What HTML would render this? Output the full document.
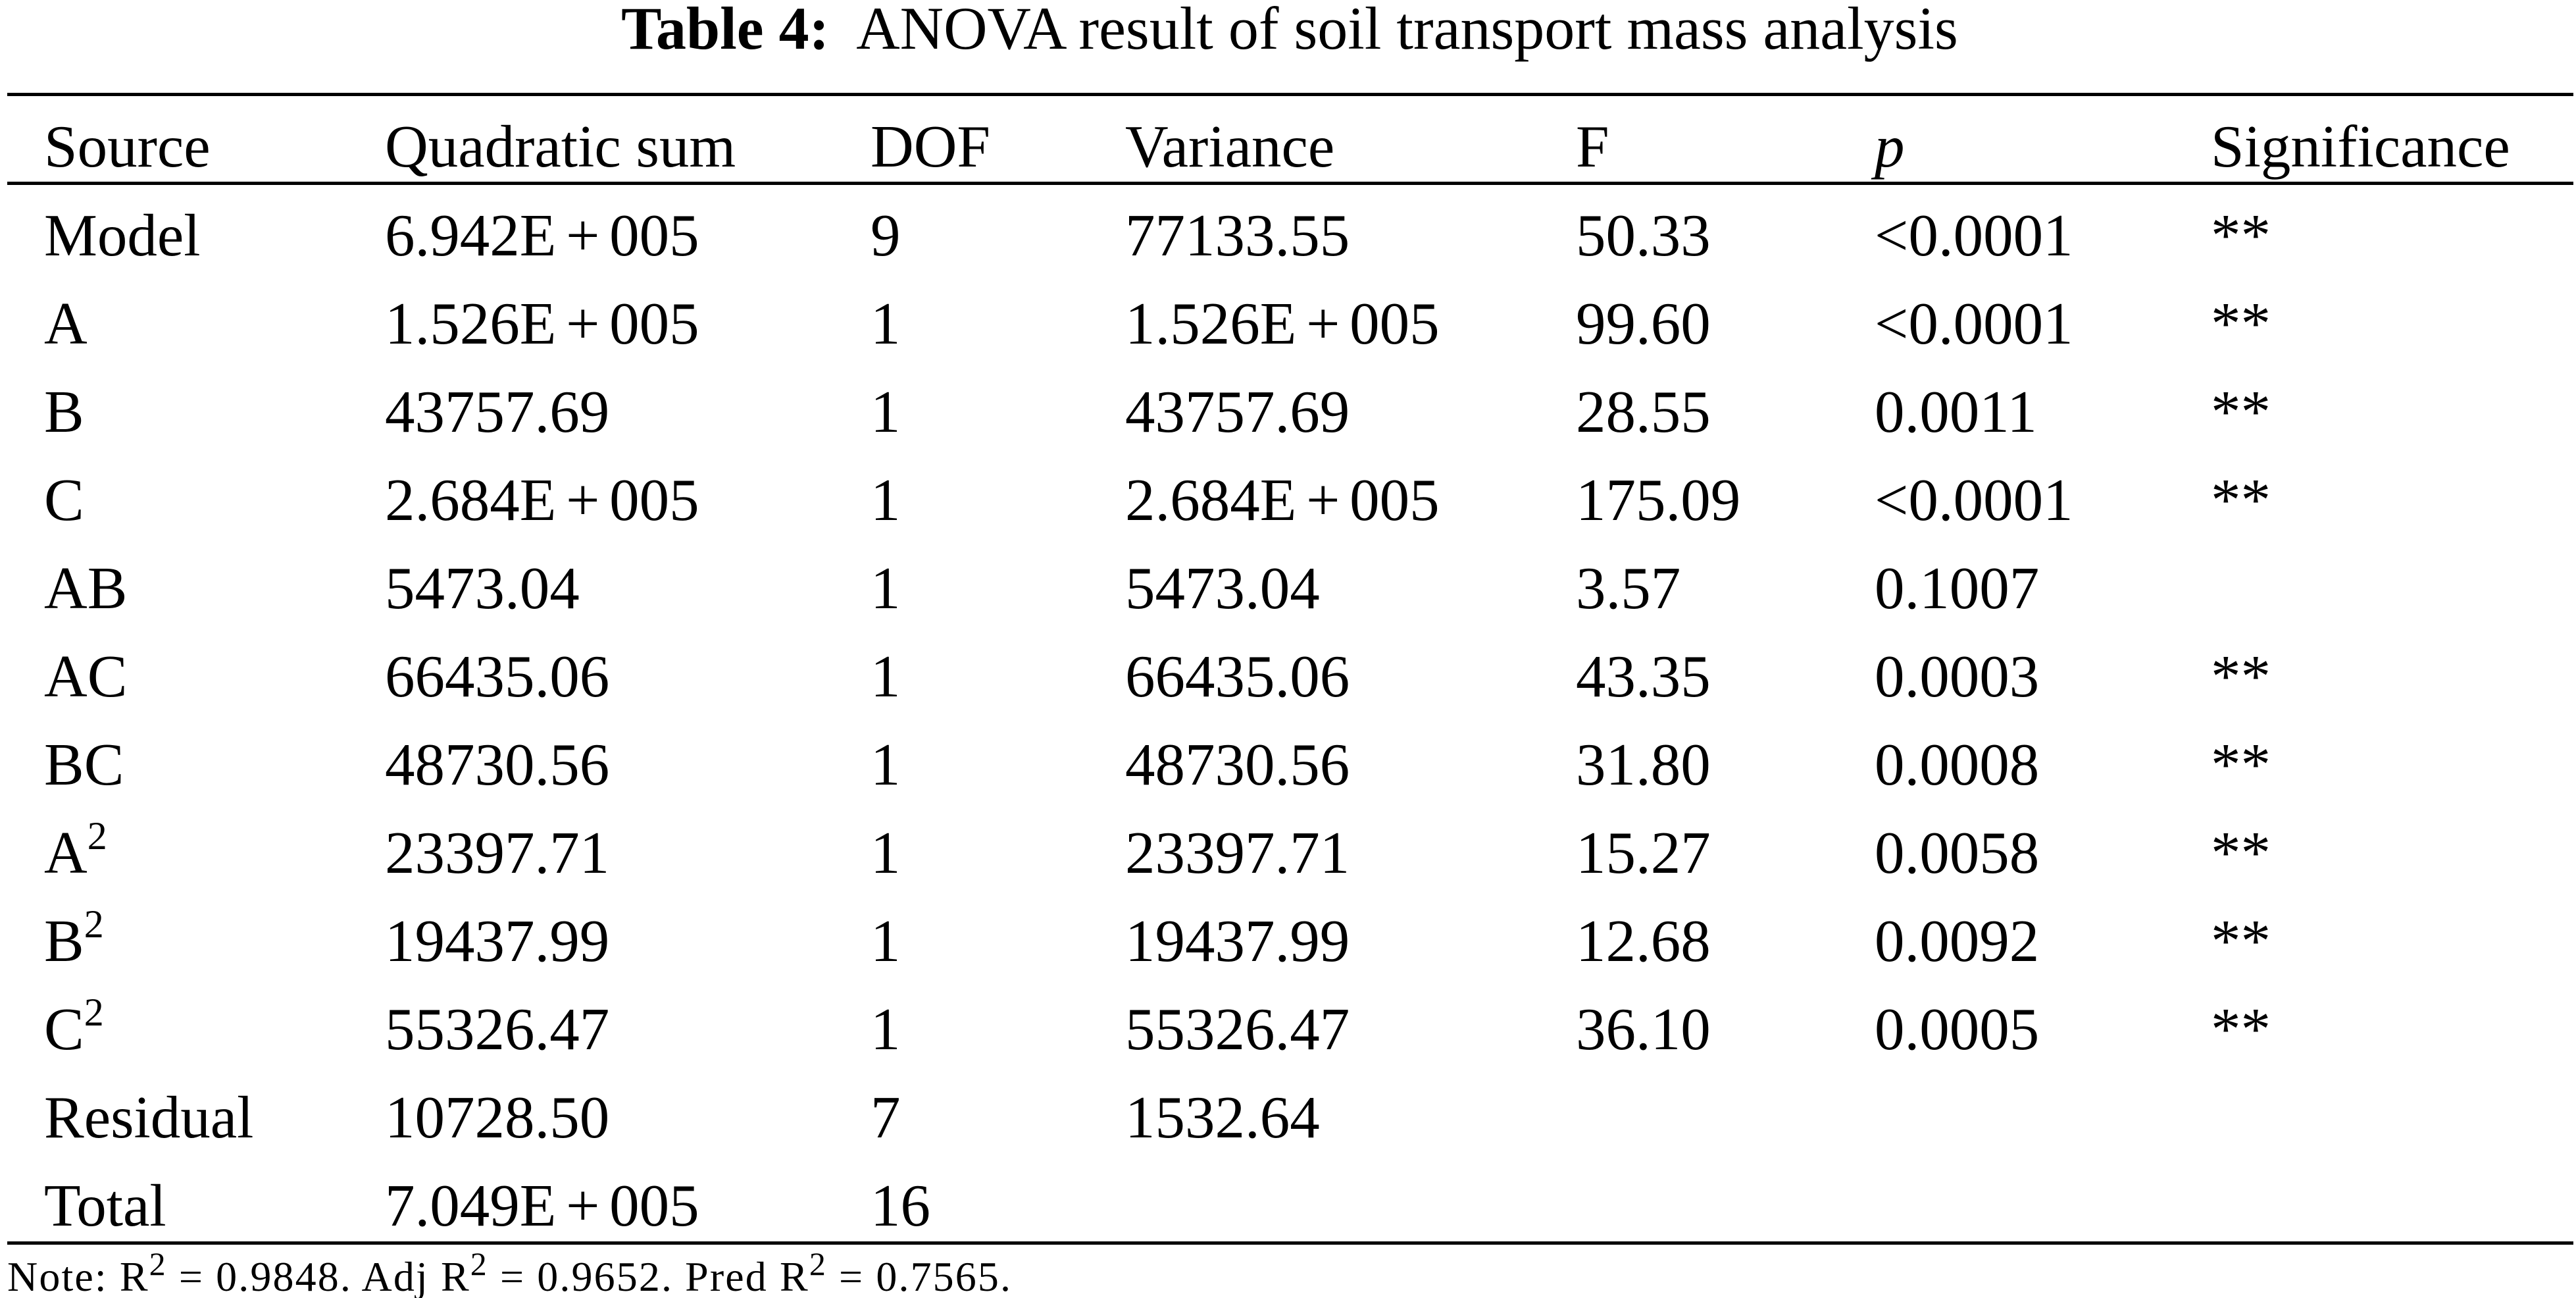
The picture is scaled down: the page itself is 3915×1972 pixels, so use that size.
<!DOCTYPE html>
<html><head><meta charset="utf-8"><style>
html,body{margin:0;padding:0;background:#fff;}
svg{display:block;}
text{font-family:"Liberation Serif","Times New Roman",serif;fill:#000;}
</style></head><body>
<svg id="tbl" width="3915" height="1972" viewBox="0 0 3915 1972" xmlns="http://www.w3.org/2000/svg">
<text x="1960" y="74" font-size="92" font-weight="bold" text-anchor="middle"><tspan font-weight="bold">Table 4:</tspan><tspan font-weight="normal" xml:space="preserve">  ANOVA result of soil transport mass analysis</tspan></text>
<rect x="11" y="141" width="3900" height="5" fill="#000"/>
<rect x="11" y="276" width="3900" height="5" fill="#000"/>
<rect x="11" y="1886" width="3900" height="5" fill="#000"/>
<text x="11" y="1961" font-size="64" textLength="1525" lengthAdjust="spacing">Note: R<tspan font-size="50" dy="-24">2</tspan><tspan dy="24"> = 0.9848. Adj R</tspan><tspan font-size="50" dy="-24">2</tspan><tspan dy="24"> = 0.9652. Pred R</tspan><tspan font-size="50" dy="-24">2</tspan><tspan dy="24"> = 0.7565.</tspan></text>
</svg>
<script>
const colX = [67, 585, 1323, 1710, 2395, 2849, 3360];
const headers = ["Source","Quadratic sum","DOF","Variance","F","p","Significance"];
const sources = ["Model","A","B","C","AB","AC","BC","A2","B2","C2","Residual","Total"];
const quadSum = ["6.942E + 005","1.526E + 005","43757.69","2.684E + 005","5473.04","66435.06","48730.56","23397.71","19437.99","55326.47","10728.50","7.049E + 005"];
const dof = ["9","1","1","1","1","1","1","1","1","1","7","16"];
const variance = ["77133.55","1.526E + 005","43757.69","2.684E + 005","5473.04","66435.06","48730.56","23397.71","19437.99","55326.47","1532.64",""];
const fVals = ["50.33","99.60","28.55","175.09","3.57","43.35","31.80","15.27","12.68","36.10","",""];
const pVals = ["<0.0001","<0.0001","0.0011","<0.0001","0.1007","0.0003","0.0008","0.0058","0.0092","0.0005","",""];
const sig = ["**","**","**","**","","**","**","**","**","**","",""];
const svg = document.getElementById('tbl');
const NS = "http://www.w3.org/2000/svg";
function mk(x, y, cls) {
  const t = document.createElementNS(NS, 'text');
  t.setAttribute('x', x);
  t.setAttribute('y', y);
  t.setAttribute('font-size', '91');
  
  
  svg.appendChild(t);
  return t;
}
headers.forEach((h, i) => {
  const t = mk(colX[i], 253, 'header-' + h.toLowerCase().replace(/ /g, '-'));
  t.textContent = h;
  if (h === 'p') t.setAttribute('font-style', 'italic');
});
const cols = [sources, quadSum, dof, variance, fVals, pVals, sig];
const colNames = ["source","quadratic-sum","dof","variance","f-value","p-value","significance"];
sources.forEach((s, r) => {
  const y = 388 + r * 134;
  cols.forEach((arr, c) => {
    const v = arr[r];
    if (!v) return;
    const t = mk(colX[c], y, colNames[c] + '-' + s.toLowerCase());
    if (c === 0 && /^[ABC]2$/.test(v)) {
      t.textContent = v[0];
      const sup = document.createElementNS(NS, 'tspan');
      sup.setAttribute('font-size', '60');
      sup.setAttribute('dy', '-36');
      sup.textContent = '2';
      t.appendChild(sup);
    } else {
      t.textContent = v;
      if (v.indexOf(' + ') >= 0) t.setAttribute('word-spacing', '-8');
    }
  });
});
</script>
</body></html>
